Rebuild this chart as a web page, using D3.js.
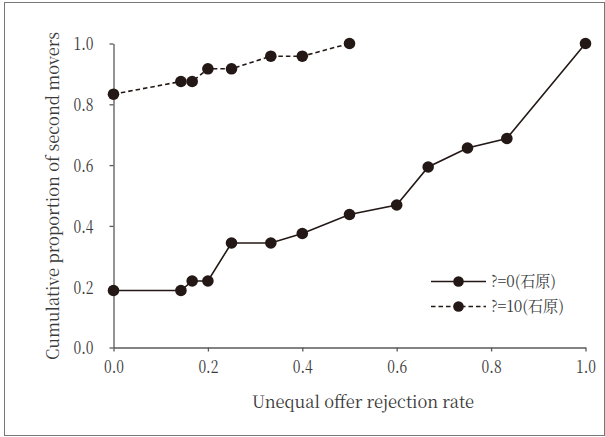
<!DOCTYPE html>
<html><head><meta charset="utf-8">
<script src="https://cdn.jsdelivr.net/npm/d3@7"></script>
<style>body{margin:0;background:#fff}svg{display:block}</style>
</head><body>
<script>
const xValues0 = [0, 1/7, 1/6, 0.2, 0.25, 1/3, 0.4, 0.5, 0.6, 2/3, 0.75, 5/6, 1.0];
const yValues0 = [0.1875, 0.1875, 0.21875, 0.21875, 0.34375, 0.34375, 0.375, 0.4375, 0.46875, 0.59375, 0.65625, 0.6875, 1.0];
const xValues10 = [0, 1/7, 1/6, 0.2, 0.25, 1/3, 0.4, 0.5];
const yValues10 = [0.8333, 0.875, 0.875, 0.9167, 0.9167, 0.9583, 0.9583, 1.0];
const seriesNames = ["?=0(石原)", "?=10(石原)"];
const tickValues = [0, 0.2, 0.4, 0.6, 0.8, 1.0];
const xTitle = "Unequal offer rejection rate";
const yTitle = "Cumulative proportion of second movers";

const W = 605, H = 437;
const ink = "#231815", axisCol = "#5a5a5a", textCol = "#3a3a3a";
const serif = "'Noto Serif CJK JP', 'Liberation Serif', serif";
const svg = d3.select("body").append("svg").attr("width", W).attr("height", H);

svg.append("rect").attr("x", 4.5).attr("y", 2.5).attr("width", 600).attr("height", 433)
  .attr("fill", "none").attr("stroke", "#777").attr("stroke-width", 1);

const x = d3.scaleLinear().domain([0, 1]).range([113.5, 585.5]);
const y = d3.scaleLinear().domain([0, 1]).range([347.5, 43.5]);

const fmt = d3.format(".1f");
const gx = svg.append("g").attr("transform", `translate(0,${y(0)})`)
  .call(d3.axisBottom(x).tickValues(tickValues).tickFormat(fmt).tickSizeInner(4).tickSizeOuter(0).tickPadding(6));
const gy = svg.append("g").attr("transform", `translate(${x(0)},0)`)
  .call(d3.axisLeft(y).tickValues(tickValues).tickFormat(fmt).tickSizeInner(4).tickSizeOuter(0).tickPadding(16));
[gx, gy].forEach(g => {
  g.attr("font-family", null);
  g.select(".domain").attr("stroke", axisCol).attr("stroke-width", 1.3);
  g.selectAll(".tick line").attr("stroke", axisCol).attr("stroke-width", 1.3);
  g.selectAll(".tick text").attr("fill", textCol).style("font-family", serif).style("font-size", "18px")
    .attr("textLength", 20).attr("lengthAdjust", "spacingAndGlyphs");
});
gx.selectAll(".tick text").attr("dy", "0.85em");
gy.selectAll(".tick text").attr("dy", "0.35em");

svg.append("text").attr("x", 363).attr("y", 402).attr("dy", "0.35em").attr("text-anchor", "middle")
  .attr("textLength", 222).attr("lengthAdjust", "spacingAndGlyphs")
  .style("font-family", serif).style("font-size", "17px").attr("fill", textCol).text(xTitle);
svg.append("text").attr("transform", `translate(53,196) rotate(-90)`).attr("dy", "0.35em").attr("text-anchor", "middle")
  .attr("textLength", 328).attr("lengthAdjust", "spacingAndGlyphs")
  .style("font-family", serif).style("font-size", "17px").attr("fill", textCol).text(yTitle);

const line = d3.line().x(d => x(d[0])).y(d => y(d[1]));
const s0 = xValues0.map((v, i) => [v, yValues0[i]]);
const s10 = xValues10.map((v, i) => [v, yValues10[i]]);
const series = [{data: s0, dash: null}, {data: s10, dash: "4.5,3"}];
series.forEach(s => {
  svg.append("path").datum(s.data).attr("d", line).attr("fill", "none")
    .attr("stroke", ink).attr("stroke-width", 1.6).attr("stroke-dasharray", s.dash);
  svg.selectAll(null).data(s.data).enter().append("circle")
    .attr("cx", d => x(d[0])).attr("cy", d => y(d[1])).attr("r", 5.8).attr("fill", ink);
});

// legend
const legY = [281.5, 306.5];
series.forEach((s, i) => {
  svg.append("line").attr("x1", 431).attr("x2", 486).attr("y1", legY[i]).attr("y2", legY[i])
    .attr("stroke", ink).attr("stroke-width", 1.6).attr("stroke-dasharray", s.dash);
  svg.append("circle").attr("cx", 458.5).attr("cy", legY[i]).attr("r", 5.3).attr("fill", ink);
  svg.append("text").attr("x", 491).attr("y", legY[i]).attr("dy", "0.35em")
    .attr("textLength", i === 0 ? 65 : 73).attr("lengthAdjust", "spacingAndGlyphs")
    .style("font-family", serif).style("font-size", "16px")
    .attr("fill", textCol).text(seriesNames[i]);
});
</script>
</body></html>
